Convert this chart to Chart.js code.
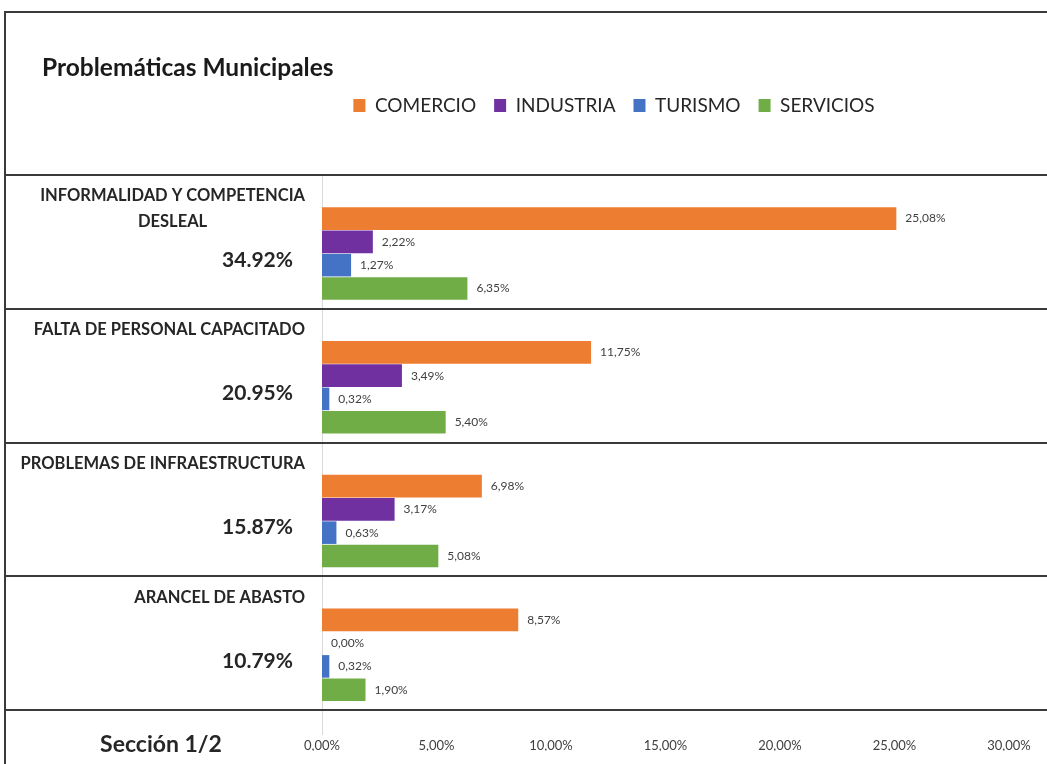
<!DOCTYPE html>
<html lang="es">
<head>
<meta charset="UTF-8">
<title>Problemáticas Municipales</title>
<script src="https://cdn.jsdelivr.net/npm/chart.js"></script>
<style>
    html, body { margin: 0; padding: 0; background: #fff; }
    #wrap { width: 1047px; height: 764px; }
</style>
</head>
<body>
<div id="wrap"><canvas id="grafico"></canvas></div>
<script>
// Datos
const categorias = [
    ['INFORMALIDAD Y COMPETENCIA', 'DESLEAL'],
    ['FALTA DE PERSONAL CAPACITADO'],
    ['PROBLEMAS DE INFRAESTRUCTURA'],
    ['ARANCEL DE ABASTO']
];
const totales = [34.92, 20.95, 15.87, 10.79];
const comercio = [25.08, 11.75, 6.98, 8.57];
const industria = [2.22, 3.49, 3.17, 0.00];
const turismo = [1.27, 0.32, 0.63, 0.32];
const servicios = [6.35, 5.40, 5.08, 1.90];
const ticksX = [0, 5, 10, 15, 20, 25, 30];

const FUENTE = 'Lato, "Liberation Sans", sans-serif';
const pct = v => v.toFixed(2).replace('.', ',') + '%';

// Marco, separadores, título y etiquetas de la izquierda
const decoracion = {
    id: 'decoracion',
    beforeDraw(chart) {
        const ctx = chart.ctx;
        const area = chart.chartArea;
        ctx.save();
        // eje cero
        ctx.strokeStyle = '#d9d9d9';
        ctx.lineWidth = 1;
        ctx.beginPath();
        ctx.moveTo(area.left + 0.5, area.top);
        ctx.lineTo(area.left + 0.5, area.bottom + 25);
        ctx.stroke();
        ctx.restore();
    },
    afterDraw(chart) {
        const ctx = chart.ctx;
        const area = chart.chartArea;
        const banda = (area.bottom - area.top) / categorias.length;
        ctx.save();
        // marco exterior
        ctx.strokeStyle = '#3a3a3a';
        ctx.lineWidth = 2;
        ctx.beginPath();
        ctx.moveTo(5, chart.height);
        ctx.lineTo(5, 12);
        ctx.lineTo(chart.width, 12);
        ctx.stroke();
        // separadores entre categorias
        for (let i = 0; i <= categorias.length; i++) {
            const yy = Math.round(area.top + banda * i);
            ctx.beginPath();
            ctx.moveTo(5, yy);
            ctx.lineTo(chart.width, yy);
            ctx.stroke();
        }
        // título
        ctx.fillStyle = '#1a1a1a';
        ctx.textBaseline = 'middle';
        ctx.textAlign = 'left';
        ctx.font = 'bold 24.5px ' + FUENTE;
        ctx.fillText('Problemáticas Municipales', 42, 68);
        // etiquetas de categoría y totales
        categorias.forEach((lineas, i) => {
            const top = area.top + banda * i;
            ctx.font = 'bold 16.5px ' + FUENTE;
            ctx.fillStyle = '#262626';
            const anchos = lineas.map(l => ctx.measureText(l).width);
            const maxAncho = Math.max(...anchos);
            const centro = 305 - maxAncho / 2;
            ctx.textAlign = 'center';
            lineas.forEach((l, j) => ctx.fillText(l, centro, top + 21 + j * 26));
            ctx.font = 'bold 21px ' + FUENTE;
            ctx.textAlign = 'right';
            ctx.fillText(totales[i].toFixed(2) + '%', 293, top + banda / 2 + 18);
        });
        ctx.font = 'bold 23px ' + FUENTE;
        ctx.textAlign = 'center';
        ctx.fillText('Sección 1/2', 161, 745);
        ctx.restore();
    },
    afterDatasetsDraw(chart) {
        const ctx = chart.ctx;
        ctx.save();
        ctx.font = '12px ' + FUENTE;
        ctx.fillStyle = '#404040';
        ctx.textAlign = 'left';
        ctx.textBaseline = 'middle';
        chart.data.datasets.forEach((ds, i) => {
            if (!ds.label) return;
            chart.getDatasetMeta(i).data.forEach((bar, j) => {
                ctx.fillText(pct(ds.data[j]), bar.x + 9, bar.y);
            });
        });
        ctx.restore();
    }
};

// Espacio extra debajo de la leyenda
const margenLeyenda = {
    id: 'margenLeyenda',
    beforeInit(chart) {
        const fitOriginal = chart.legend.fit;
        chart.legend.fit = function () {
            fitOriginal.bind(chart.legend)();
            this.height = 97;
        };
    }
};

const ctx = document.getElementById('grafico').getContext('2d');
new Chart(ctx, {
    type: 'bar',
    data: {
        labels: categorias.map(c => c.join(' ')),
        datasets: [
            // hueco vacío encima de cada grupo (como en el original)
            { label: '', data: categorias.map(() => null), backgroundColor: 'rgba(0,0,0,0)' },
            { label: 'COMERCIO', data: comercio, backgroundColor: '#ED7D31' },
            { label: 'INDUSTRIA', data: industria, backgroundColor: '#7030A0' },
            { label: 'TURISMO', data: turismo, backgroundColor: '#4472C4' },
            { label: 'SERVICIOS', data: servicios, backgroundColor: '#70AD47' }
        ]
    },
    options: {
        indexAxis: 'y',
        responsive: true,
        maintainAspectRatio: false,
        animation: false,
        layout: { padding: { left: 219, right: 38, top: 78, bottom: 13 } },
        datasets: {
            bar: { categoryPercentage: 0.87, barPercentage: 0.97 }
        },
        plugins: {
            tooltip: { enabled: false },
            legend: {
                position: 'top',
                align: 'center',
                labels: {
                    boxWidth: 12,
                    boxHeight: 13,
                    padding: 18,
                    color: '#262626',
                    font: { family: FUENTE, size: 19 },
                    filter: item => item.text !== ''
                }
            }
        },
        scales: {
            x: {
                min: 0,
                max: 30,
                afterBuildTicks(axis) { axis.ticks = ticksX.map(v => ({ value: v })); },
                afterFit(axis) {
                    axis.height = 41;
                    axis.paddingLeft = 0;
                    axis.paddingRight = 0;
                },
                grid: { display: false, drawTicks: false },
                border: { display: false },
                ticks: {
                    padding: 28,
                    color: '#404040',
                    font: { family: FUENTE, size: 13 },
                    callback: v => pct(v)
                }
            },
            y: {
                afterFit(axis) { axis.width = 103; },
                grid: { display: false },
                border: { display: false },
                ticks: { display: false }
            }
        }
    },
    plugins: [decoracion, margenLeyenda]
});
</script>
</body>
</html>
